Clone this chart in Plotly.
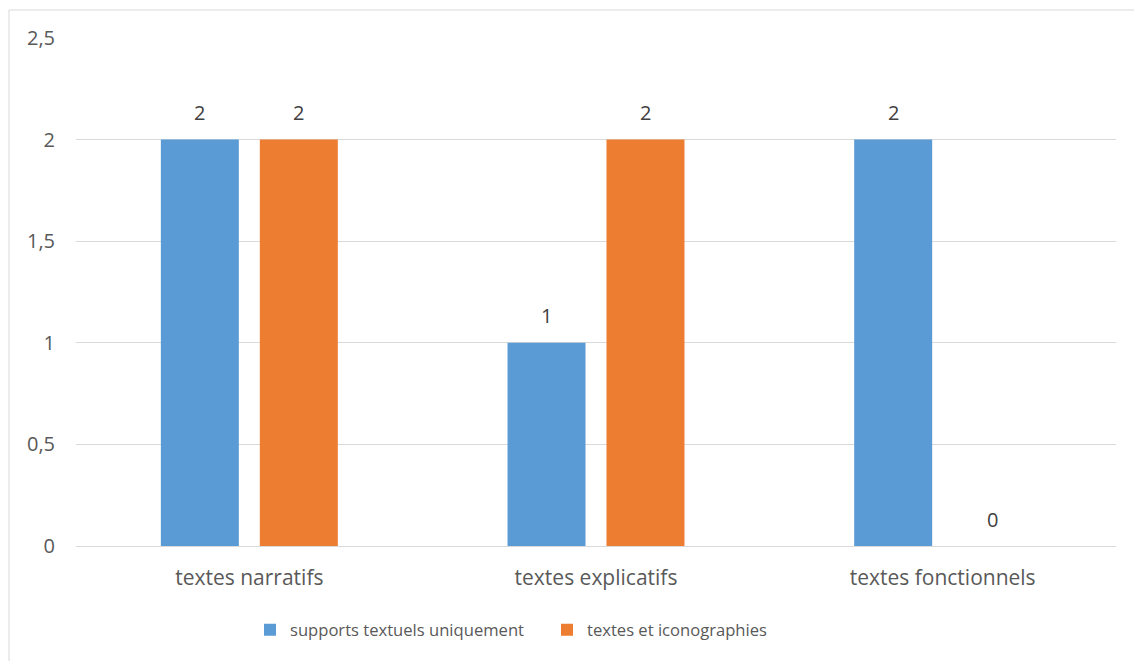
import plotly.graph_objects as go

categories = ["textes narratifs", "textes explicatifs", "textes fonctionnels"]
series_names = ["supports textuels uniquement", "textes et iconographies"]
supports = [2, 1, 2]
iconographies = [2, 2, 0]
colors = ["#5B9BD5", "#ED7D31"]
y_ticks = [0, 0.5, 1, 1.5, 2, 2.5]
y_tick_labels = ["0", "0,5", "1", "1,5", "2", "2,5"]

FONT = "Open Sans"
TXT = "#595959"

fig = go.Figure()
for name, vals, col in zip(series_names, [supports, iconographies], colors):
    fig.add_trace(go.Bar(x=categories, y=vals, name=name, marker=dict(color=col, line=dict(width=0))))

# data labels
for i, vals in enumerate([supports, iconographies]):
    shift = -49.5 if i == 0 else 49.5
    for c, v in zip(categories, vals):
        fig.add_annotation(x=c, y=v, xref="x", yref="y", text=str(v).replace(".", ","),
                           showarrow=False, xshift=shift, yshift=27, yanchor="middle",
                           font=dict(family=FONT, size=20, color="#404040"))

L, R, T, B = 76, 18, 38, 115
W, H = 1134, 661
pw, ph = W - L - R, H - T - B
fig.add_shape(type="rect", xref="paper", yref="paper",
              x0=(9 - L) / pw, x1=(1140 - L) / pw,
              y0=-(700 - (H - B)) / ph, y1=1 + (T - 10) / ph,
              line=dict(color="#D9D9D9", width=1), fillcolor="rgba(0,0,0,0)", layer="below")

fig.update_layout(
    width=W, height=H,
    margin=dict(l=L, r=R, t=T, b=B),
    paper_bgcolor="white", plot_bgcolor="white",
    barmode="group", bargap=0.429, bargroupgap=0.212,
    font=dict(family=FONT, size=20, color=TXT),
    showlegend=True,
    legend=dict(orientation="h", x=(250 - L) / pw, xanchor="left", y=-(630 - (H - B)) / ph, yanchor="middle",
                font=dict(family=FONT, size=16.6, color=TXT), itemwidth=30, entrywidth=252,
                bgcolor="rgba(0,0,0,0)"),
    xaxis=dict(showgrid=False, showline=False, ticks="", ticklabelstandoff=17,
               tickfont=dict(family=FONT, size=21, color=TXT)),
    yaxis=dict(range=[0, 2.5], tickvals=y_ticks, ticktext=y_tick_labels, showgrid=True,
               gridcolor="#D9D9D9", gridwidth=1, zeroline=True, zerolinecolor="#D9D9D9",
               zerolinewidth=1, showline=False, ticks="", ticklabelstandoff=20,
               tickfont=dict(family=FONT, size=20, color=TXT)),
)

fig.write_html("out.html")
